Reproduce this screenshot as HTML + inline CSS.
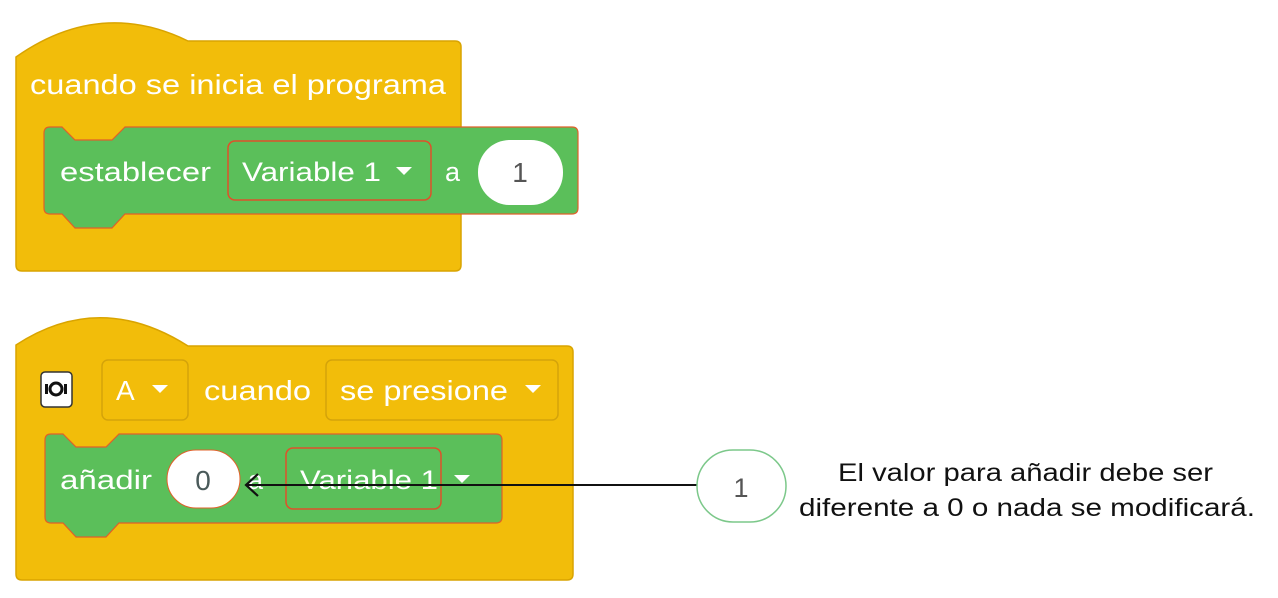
<!DOCTYPE html>
<html><head><meta charset="utf-8"><style>
html,body{margin:0;padding:0;background:#fff;width:1278px;height:598px;overflow:hidden}
svg{display:block}
text{font-family:"Liberation Sans",sans-serif}
</style></head><body>
<svg width="1278" height="598" viewBox="0 0 1278 598">
<!-- block 1 -->
<path d="M16,57 Q100,-2 188,41 L455,41 Q461,41 461,47 L461,265 Q461,271 455,271 L22,271 Q16,271 16,265 Z" fill="#f2bd0a" stroke="#d9a400" stroke-width="1.5"/>
<path d="M44,133 Q44,127 50,127 L62,127 L75,140 L112,140 L125,127 L572,127 Q578,127 578,133 L578,208 Q578,214 572,214 L125,214 L112,228 L75,228 L62,214 L50,214 Q44,214 44,208 Z" fill="#5bbf5a" stroke="#e0602a" stroke-width="1.2"/>
<text x="30" y="94" font-size="28" fill="#fff" textLength="416" lengthAdjust="spacingAndGlyphs">cuando se inicia el programa</text>
<text x="60" y="181" font-size="27" fill="#fff" textLength="151" lengthAdjust="spacingAndGlyphs">establecer</text>
<rect x="228" y="141" width="203" height="59" rx="7" fill="#5bbf5a" stroke="#e0502a" stroke-width="1.5"/>
<text x="242" y="181" font-size="27" fill="#fff" textLength="139" lengthAdjust="spacingAndGlyphs">Variable 1</text>
<path d="M396,167 L412,167 L404,175 Z" fill="#fff"/>
<text x="445" y="181" font-size="27" fill="#fff">a</text>
<rect x="478" y="140" width="85" height="65" rx="32" fill="#fff"/>
<text x="520" y="182" font-size="28" fill="#555" text-anchor="middle">1</text>
<!-- block 2 -->
<path d="M16,345 Q100,290 188,346 L567,346 Q573,346 573,352 L573,574 Q573,580 567,580 L22,580 Q16,580 16,574 Z" fill="#f2bd0a" stroke="#d9a400" stroke-width="1.5"/>
<rect x="41" y="372" width="31" height="35" rx="4" fill="#fff" stroke="#333" stroke-width="1.5"/>
<circle cx="56" cy="389" r="6" fill="none" stroke="#111" stroke-width="3"/>
<path d="M45,384 L48,384 L48,394 L45,394 Z M64,384 L67,384 L67,394 L64,394 Z" fill="#111"/>
<rect x="102" y="360" width="86" height="60" rx="6" fill="#f2bd0a" stroke="#d4a30a" stroke-width="1.5"/>
<text x="116" y="400" font-size="28" fill="#fff">A</text>
<path d="M152,385 L168,385 L160,393 Z" fill="#fff"/>
<text x="204" y="400" font-size="28" fill="#fff" textLength="107" lengthAdjust="spacingAndGlyphs">cuando</text>
<rect x="326" y="360" width="232" height="60" rx="6" fill="#f2bd0a" stroke="#d4a30a" stroke-width="1.5"/>
<text x="340" y="400" font-size="28" fill="#fff" textLength="168" lengthAdjust="spacingAndGlyphs">se presione</text>
<path d="M525,385 L541,385 L533,393 Z" fill="#fff"/>
<path d="M45,440 Q45,434 51,434 L63,434 L76,447 L106,447 L119,434 L496,434 Q502,434 502,440 L502,517 Q502,523 496,523 L119,523 L106,537 L76,537 L63,523 L51,523 Q45,523 45,517 Z" fill="#5bbf5a" stroke="#e0602a" stroke-width="1.2"/>
<text x="60" y="489" font-size="27" fill="#fff" textLength="92" lengthAdjust="spacingAndGlyphs">añadir</text>
<rect x="167" y="450" width="73" height="58" rx="29" fill="#fff" stroke="#e0602a" stroke-width="1"/>
<text x="203" y="490" font-size="28" fill="#4a5a5a" text-anchor="middle">0</text>
<text x="248" y="489" font-size="27" fill="#fff">a</text>
<rect x="286" y="448" width="155" height="61" rx="7" fill="#5bbf5a" stroke="#e0502a" stroke-width="1.5"/>
<text x="300" y="489" font-size="27" fill="#fff" textLength="138" lengthAdjust="spacingAndGlyphs">Variable 1</text>
<path d="M454,475 L470,475 L462,483 Z" fill="#fff"/>
<!-- connector -->
<line x1="697" y1="485" x2="247" y2="485" stroke="#111" stroke-width="2"/>
<path d="M258,474 L246,485 L258,496" fill="none" stroke="#111" stroke-width="2.2"/>
<rect x="697" y="450" width="89" height="72" rx="36" fill="#fff" stroke="#7cc88a" stroke-width="1.5"/>
<text x="741" y="497" font-size="27" fill="#555" text-anchor="middle">1</text>
<text x="838" y="481" font-size="25" fill="#111" textLength="375" lengthAdjust="spacingAndGlyphs">El valor para añadir debe ser</text>
<text x="799" y="516" font-size="25" fill="#111" textLength="456" lengthAdjust="spacingAndGlyphs">diferente a 0 o nada se modificará.</text>
</svg>
</body></html>
